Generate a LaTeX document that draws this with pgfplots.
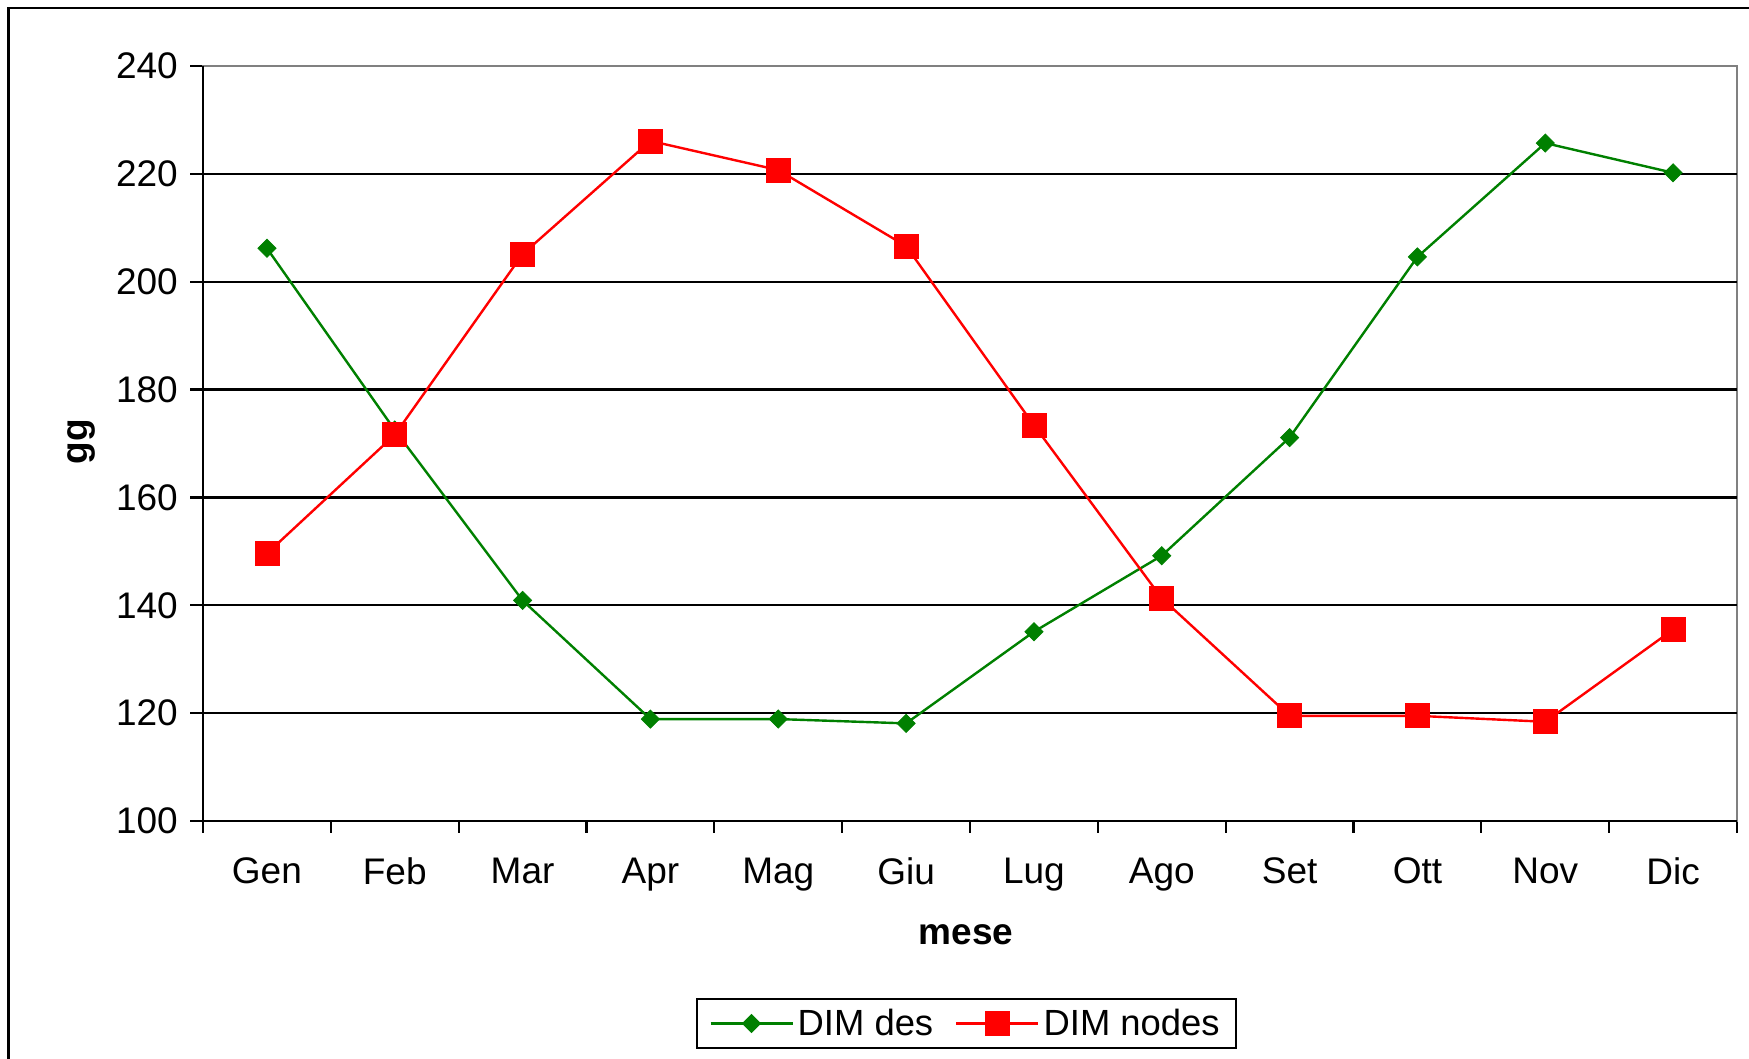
\documentclass[border=0pt]{standalone}
\usepackage{pgfplots}
\pgfplotsset{compat=1.18}
\usepackage{fontspec}
\setmainfont{Liberation Sans}
\definecolor{xlgreen}{RGB}{0,128,0}
\definecolor{xlred}{RGB}{255,0,0}
\begin{document}
\begin{tikzpicture}[x=1pt,y=1pt]
\useasboundingbox (0,0) rectangle (874.5,529.5);
\draw[line width=1.35pt] (4.2,0) -- (4.2,525.5) -- (874.5,525.5);
\begin{axis}[
  at={(101.5pt,119pt)}, anchor=south west,
  scale only axis, width=767pt, height=377.5pt,
  xmin=-0.5, xmax=11.5, ymin=100, ymax=240,
  xtick={0,...,11},
  xticklabels={Gen,Feb,Mar,Apr,Mag,Giu,Lug,Ago,Set,Ott,Nov,Dic},
  minor xtick={-0.5,0.5,...,11.5},
  ytick={100,120,...,240},
  extra y ticks={120,140,...,220},
  extra y tick labels={},
  extra y tick style={grid=major},
  major grid style={black, line width=1.1pt},
  xtick pos=bottom, ytick pos=left,
  tick align=outside,
  major tick length=6.5pt, minor tick length=6pt,
  major x tick style={draw=none},
  tick style={black, line width=1.1pt},
  axis line style={draw=gray, line width=1.1pt},
  ticklabel style={font=\fontsize{18.5}{22}\selectfont},
  /pgf/number format/assume math mode=true,
  xticklabel style={yshift=-8.5pt},
  yticklabel style={xshift=-2.6pt},
  xlabel={\textbf{mese}},
  ylabel={\textbf{gg}},
  label style={font=\fontsize{18.5}{22}\selectfont},
  xlabel style={at={(axis description cs:0.4974,-0.1500)}, anchor=center},
  ylabel style={at={(axis description cs:-0.0795,0.5023)}, anchor=center, rotate=0},
  legend columns=2,
  legend style={at={(0.4977,-0.2682)}, anchor=center, draw=black, line width=1.1pt,
    font=\fontsize{18.2}{21}\selectfont, inner xsep=6pt, inner ysep=3pt,
    /tikz/every odd column/.append style={column sep=0pt},
    /tikz/every even column/.append style={column sep=9pt}},
  legend image code/.code={\draw[mark repeat=2,mark phase=2,#1] plot coordinates {(0pt,0pt) (20.5pt,0pt) (41pt,0pt)};},
  after end axis/.code={\draw[black, line width=1.1pt] (rel axis cs:0,1) -- (rel axis cs:0,0) -- (rel axis cs:1,0);},
  clip=false,
]
\addplot[color=xlgreen, line width=1.2pt, mark=square*, mark size=3.2pt,
  mark options={rotate=45, solid, line width=0.4pt}] coordinates {
  (0,206.2) (1,172.5) (2,140.9) (3,118.9) (4,118.9) (5,118.1)
  (6,135.1) (7,149.2) (8,171.1) (9,204.6) (10,225.7) (11,220.2)
};
\addlegendentry{DIM des}
\addplot[color=xlred, line width=1.2pt, mark=square*, mark size=6pt,
  mark options={solid, line width=0.4pt}] coordinates {
  (0,149.6) (1,171.6) (2,205.1) (3,226.1) (4,220.7) (5,206.6)
  (6,173.4) (7,141.3) (8,119.5) (9,119.5) (10,118.4) (11,135.5)
};
\addlegendentry{DIM nodes}
\end{axis}
\end{tikzpicture}
\end{document}
